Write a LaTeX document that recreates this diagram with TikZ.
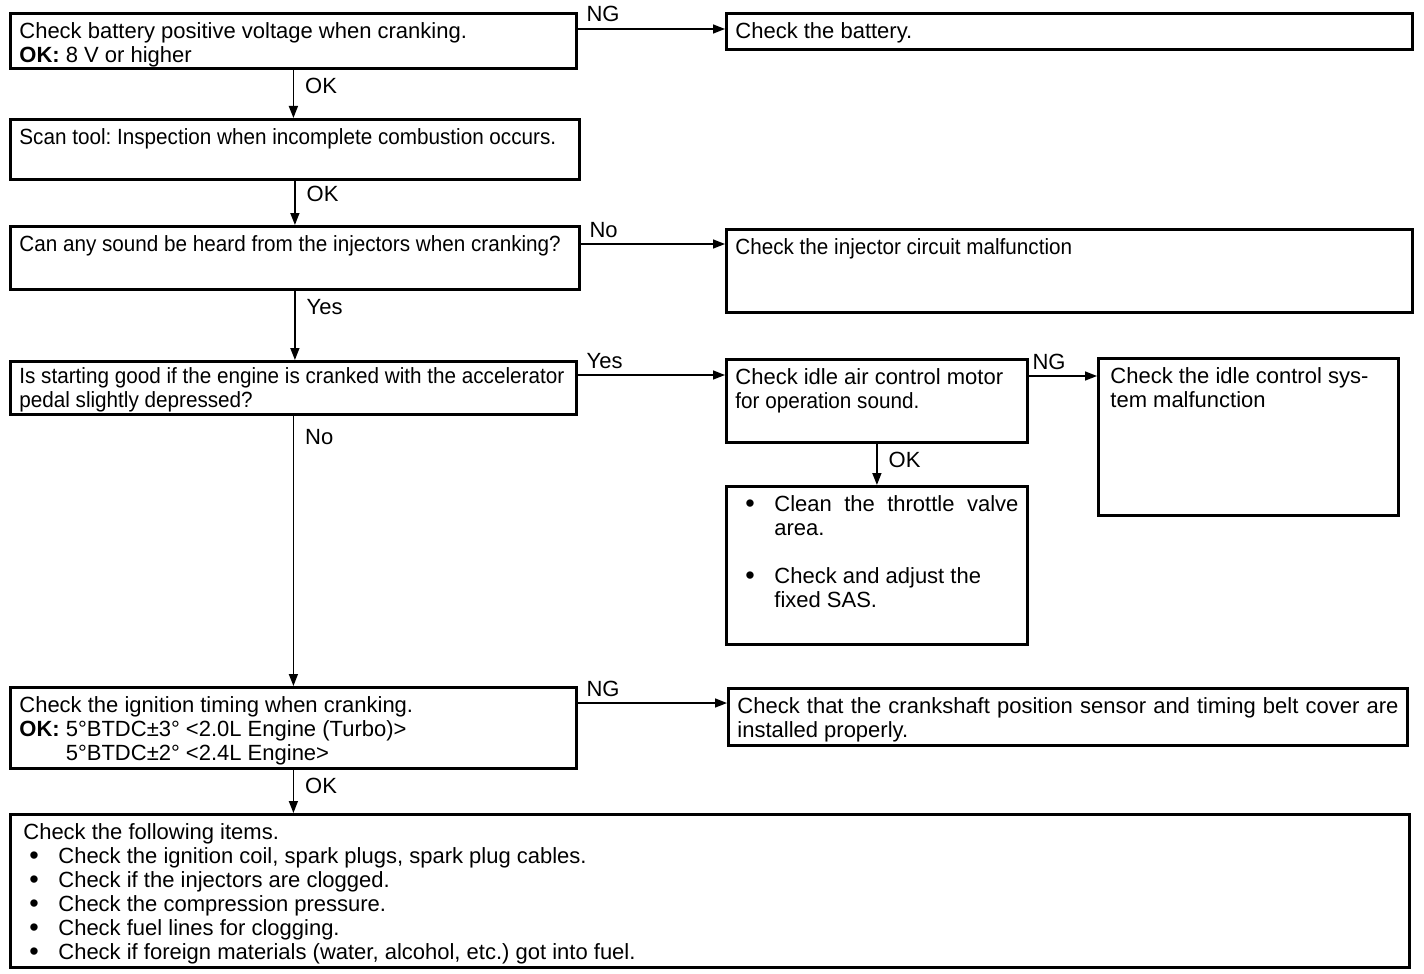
\documentclass[tikz,border=0pt]{standalone}
\usepackage{fontspec}
\setmainfont{Liberation Sans}
\newfontfamily\narrowfont[FakeStretch=0.94]{Liberation Sans}
\usetikzlibrary{arrows.meta}
\tikzset{>={Triangle[length=6pt,width=4.5pt]}}
\tikzset{box/.style={draw, line width=1.4pt, anchor=north west, inner xsep=4.5pt, inner ysep=0pt},
  arr/.style={->, line width=0.8pt},
  hlbl/.style={anchor=base west, inner sep=0pt, xshift=4pt, yshift=3.5pt},
  vlbl/.style={anchor=north west, inner sep=0pt, xshift=5.5pt, yshift=-4pt}}
\newcommand{\boxtext}[4][12.5pt]{\parbox[c][#3][t]{#2}{\frenchspacing\rule{0pt}{#1}#4}}
\newcommand{\itm}[1]{\hangindent=19.5pt\hangafter=1\hspace*{5pt}\makebox[14.5pt][l]{\raisebox{-0.4pt}{\fontsize{13.5}{12}\selectfont\textbullet}}#1\par}

\begin{document}
\begin{tikzpicture}[x=0.5pt, y=-0.5pt, font=\fontsize{11}{12}\selectfont]
\useasboundingbox (0,0) rectangle (1424,974);
\node[box] (batt) at (9,12) {\boxtext{274pt}{27.5pt}{Check battery positive voltage when cranking.\\\textbf{OK:} 8 V or higher}};
\node[box] (chkbat) at (725,12) {\boxtext{334pt}{18pt}{Check the battery.}};
\node[box] (scan) at (9,118) {\boxtext{275.5pt}{30pt}{{\narrowfont Scan tool: Inspection when incomplete combustion occurs.}}};
\node[box] (sound) at (9,225) {\boxtext{275.5pt}{31.5pt}{{\narrowfont Can any sound be heard from the injectors when cranking?}}};
\node[box] (injckt) at (725,228) {\boxtext{334pt}{41.5pt}{{\narrowfont Check the injector circuit malfunction}}};
\node[box] (accel) at (9,360) {\boxtext[11pt]{274pt}{26.5pt}{\narrowfont Is starting good if the engine is cranked with the accelerator\\pedal slightly depressed?}};
\node[box] (iacm) at (725,358) {\boxtext{141.5pt}{41.5pt}{Check idle air control motor\\{\narrowfont for operation sound.}}};
\node[box] (idlesys) at (1097,357) {\boxtext{141pt}{78.5pt}{\hspace*{1.5pt}Check the idle control sys-\\\hspace*{1.5pt}tem malfunction}};
\node[box] (throttle) at (725,485) {\boxtext{141.5pt}{79pt}{\itm{Clean the throttle valve\linebreak area.}\vspace{12pt}\itm{Check and adjust the\\fixed SAS.}}};
\node[box] (ignt) at (9,686) {\boxtext{274pt}{40.5pt}{Check the ignition timing when cranking.\\\textbf{OK:} 5°BTDC±3° <2.0L Engine (Turbo)>\\\hphantom{\textbf{OK:} }5°BTDC±2° <2.4L Engine>}};
\node[box] (cksensor) at (727,687) {\boxtext{330.5pt}{28.5pt}{Check that the crankshaft position sensor and timing belt cover are installed properly.}};
\node[box] (items) at (9,813) {\boxtext{690.5pt}{76.5pt}{\hspace*{2pt}Check the following items.\par
  \itm{Check the ignition coil, spark plugs, spark plug cables.}
  \itm{Check if the injectors are clogged.}
  \itm{Check the compression pressure.}
  \itm{Check fuel lines for clogging.}
  \itm{Check if foreign materials (water, alcohol, etc.) got into fuel.}}};

\draw[arr] ([yshift=-8.5pt]batt.north east) -- ([yshift=-8.5pt]batt.north east -| chkbat.west) node[hlbl, pos=0] {NG};
\draw[arr] ([yshift=-9.5pt]sound.north east) -- ([yshift=-9.5pt]sound.north east -| injckt.west) node[hlbl, pos=0] {No};
\draw[arr] ([yshift=-7.5pt]accel.north east) -- ([yshift=-7.5pt]accel.north east -| iacm.west) node[hlbl, pos=0] {Yes};
\draw[arr] ([yshift=-9pt]iacm.north east) -- ([yshift=-9pt]iacm.north east -| idlesys.west) node[hlbl, pos=0, xshift=-2.5pt] {NG};
\draw[arr] ([yshift=-8.5pt]ignt.north east) -- ([yshift=-8.5pt]ignt.north east -| cksensor.west) node[hlbl, pos=0] {NG};

\draw[arr] (batt.south) -- (batt.south |- scan.north) node[vlbl, pos=0] {OK};
\draw[arr] (scan.south) -- (scan.south |- sound.north) node[vlbl, pos=0, yshift=1.5pt] {OK};
\draw[arr] (sound.south) -- (sound.south |- accel.north) node[vlbl, pos=0] {Yes};
\draw[arr] (accel.south) -- (accel.south |- ignt.north) node[vlbl, pos=0, yshift=-2.5pt] {No};
\draw[arr] (ignt.south) -- (ignt.south |- items.north) node[vlbl, pos=0] {OK};
\draw[arr] (iacm.south) -- (iacm.south |- throttle.north) node[vlbl, pos=0] {OK};
\end{tikzpicture}
\end{document}
